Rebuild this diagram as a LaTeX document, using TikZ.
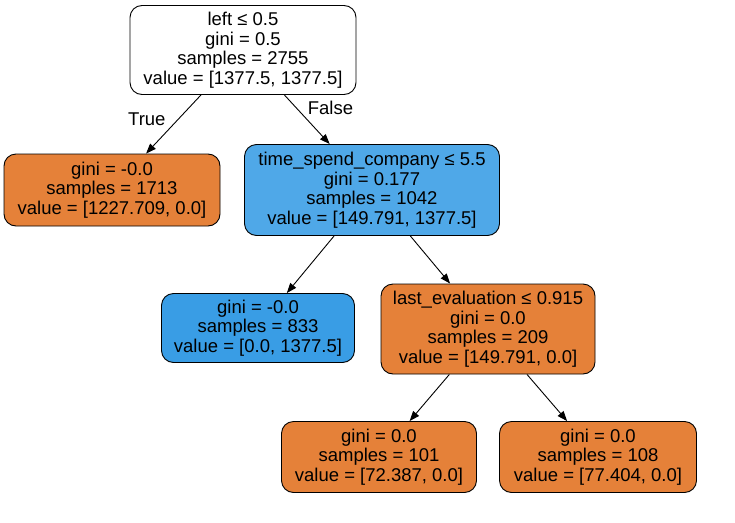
\documentclass[tikz,border=0pt]{standalone}
\usepackage{fontspec}
\setmainfont{Liberation Sans}
\usepackage{xcolor}
\usepackage{tikz}
\usetikzlibrary{arrows.meta, positioning}
\definecolor{orangeleaf}{HTML}{E58139}
\definecolor{bluepure}{HTML}{399DE5}
\definecolor{bluemix}{HTML}{4FA8E8}
\tikzset{
  treenode/.style={rectangle, rounded corners=12pt, draw=black, line width=0.9pt,
                   fill=white, align=center, inner sep=2pt,
                   font=\fontsize{18.5}{19.5}\selectfont},
  orangenode/.style={treenode, fill=orangeleaf},
  bluenode/.style={treenode, fill=bluepure},
  mixnode/.style={treenode, fill=bluemix},
  arrow/.style={-{Triangle[length=10pt, width=7.5pt]}, line width=0.9pt},
  edgelabel/.style={font=\fontsize{18.5}{19.5}\selectfont, inner sep=2pt},
}

\begin{document}
\begin{tikzpicture}[x=1pt, y=-1pt]
  \useasboundingbox (0,0) rectangle (735,522);
  \node[treenode, minimum width=226pt, minimum height=89pt] (root) at (243,50)
    {left ≤ 0.5\\gini = 0.5\\samples = 2755\\value = [1377.5, 1377.5]};
  \node[orangenode, minimum width=216pt, minimum height=72pt] (lefttrue) at (112,190)
    {gini = -0.0\\samples = 1713\\value = [1227.709, 0.0]};
  \node[mixnode, minimum width=255pt, minimum height=91pt] (timesplit) at (372,190)
    {time\_spend\_company ≤ 5.5\\gini = 0.177\\samples = 1042\\value = [149.791, 1377.5]};
  \node[bluenode, minimum width=193pt, minimum height=69pt] (blueleaf) at (258,328)
    {gini = -0.0\\samples = 833\\value = [0.0, 1377.5]};
  \node[orangenode, minimum width=214pt, minimum height=90pt] (evalsplit) at (488,329)
    {last\_evaluation ≤ 0.915\\gini = 0.0\\samples = 209\\value = [149.791, 0.0]};
  \node[orangenode, minimum width=195pt, minimum height=71pt] (leafa) at (379,457)
    {gini = 0.0\\samples = 101\\value = [72.387, 0.0]};
  \node[orangenode, minimum width=197pt, minimum height=71pt] (leafb) at (598,457)
    {gini = 0.0\\samples = 108\\value = [77.404, 0.0]};

  \draw[arrow] (root) -- node[edgelabel, pos=0.42, left=10pt] {True} (lefttrue);
  \draw[arrow] (root) -- node[edgelabel, pos=0.42, above right=-2pt and 2pt] {False} (timesplit);
  \draw[arrow] (timesplit) -- (blueleaf);
  \draw[arrow] (timesplit) -- (evalsplit);
  \draw[arrow] (evalsplit) -- (leafa);
  \draw[arrow] (evalsplit) -- (leafb);
\end{tikzpicture}
\end{document}
